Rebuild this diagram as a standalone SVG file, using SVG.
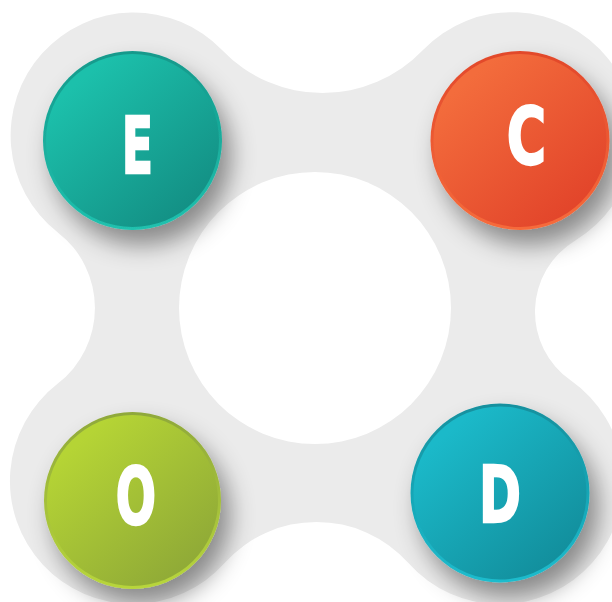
<svg xmlns="http://www.w3.org/2000/svg" width="612" height="602" viewBox="0 0 612 602">
  <style>
    .letter { font-family: "DejaVu Sans", "Liberation Sans", sans-serif; font-weight: bold; font-size: 79px; fill: #ffffff; stroke: #ffffff; stroke-width: 2.4px; stroke-linejoin: miter; text-anchor: middle; }
    .bg { fill: #ebebeb; }
  </style>
  <defs>
    <filter id="shadow" x="-40%" y="-40%" width="190%" height="190%">
      <feDropShadow dx="9" dy="15" stdDeviation="12" flood-color="#000" flood-opacity="0.42"/>
    </filter>
    <linearGradient id="gE" x1="0.2" y1="0.15" x2="0.85" y2="0.9"><stop offset="0" stop-color="#1cc0ab"/><stop offset="1" stop-color="#138f84"/></linearGradient>
    <linearGradient id="rE" x1="0" y1="0" x2="0" y2="1"><stop offset="0" stop-color="#14998b"/><stop offset="1" stop-color="#20c1ae"/></linearGradient>
    <linearGradient id="gC" x1="0.2" y1="0.15" x2="0.85" y2="0.9"><stop offset="0" stop-color="#f36c3c"/><stop offset="1" stop-color="#e2442a"/></linearGradient>
    <linearGradient id="rC" x1="0" y1="0" x2="0" y2="1"><stop offset="0" stop-color="#e2482b"/><stop offset="1" stop-color="#f66b3b"/></linearGradient>
    <linearGradient id="gO" x1="0.2" y1="0.15" x2="0.85" y2="0.9"><stop offset="0" stop-color="#b5d435"/><stop offset="1" stop-color="#8fa937"/></linearGradient>
    <linearGradient id="rO" x1="0" y1="0" x2="0" y2="1"><stop offset="0" stop-color="#8fa83a"/><stop offset="1" stop-color="#b8d63a"/></linearGradient>
    <linearGradient id="gD" x1="0.2" y1="0.15" x2="0.85" y2="0.9"><stop offset="0" stop-color="#1bb9c9"/><stop offset="1" stop-color="#128e9c"/></linearGradient>
    <linearGradient id="rD" x1="0" y1="0" x2="0" y2="1"><stop offset="0" stop-color="#13909e"/><stop offset="1" stop-color="#1cbccd"/></linearGradient>
  </defs>

  <rect width="612" height="602" fill="#ffffff"/>

  <g id="background">
    <path class="bg" d="M222 50 A139 139 0 0 0 423 50 A123 123 0 1 1 575.4 240.4 A83.5 83.5 0 0 0 570.6 380.3 A123 123 0 1 1 408.4 563 A123.3 123.3 0 0 0 224.6 563 A123 123 0 1 1 57.8 383.6 A95.5 95.5 0 0 0 57.8 232.4 A123 123 0 1 1 222 50 Z"/>
    <circle cx="315" cy="308" r="136" fill="#ffffff"/>
  </g>

  <g id="node-E">
    <circle cx="132.5" cy="140.5" r="89.5" fill="url(#rE)" filter="url(#shadow)"/>
    <circle cx="132.5" cy="140.5" r="86.5" fill="url(#gE)"/>
    <text class="letter" transform="translate(137.5 173) scale(0.58 1)">E</text>
  </g>

  <g id="node-C">
    <circle cx="520" cy="140.5" r="89.5" fill="url(#rC)" filter="url(#shadow)"/>
    <circle cx="520" cy="140.5" r="86.5" fill="url(#gC)"/>
    <text class="letter" transform="translate(526.5 164) scale(0.68 1)">C</text>
  </g>

  <g id="node-O">
    <circle cx="132.5" cy="500.5" r="88.5" fill="url(#rO)" filter="url(#shadow)"/>
    <circle cx="132.5" cy="500.5" r="85.5" fill="url(#gO)"/>
    <text class="letter" transform="translate(136 524) scale(0.6 1)">O</text>
  </g>

  <g id="node-D">
    <circle cx="500" cy="493" r="89.5" fill="url(#rD)" filter="url(#shadow)"/>
    <circle cx="500" cy="493" r="86.5" fill="url(#gD)"/>
    <text class="letter" transform="translate(500 522) scale(0.64 1)">D</text>
  </g>
</svg>
